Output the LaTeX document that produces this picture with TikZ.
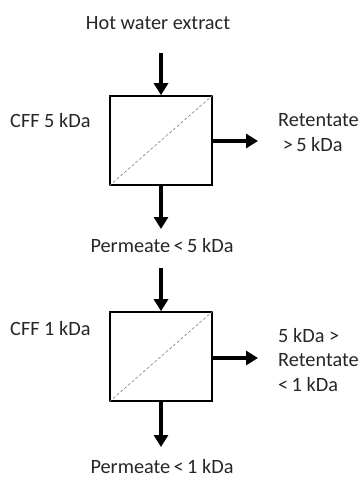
\documentclass[tikz,border=0pt]{standalone}
\usepackage{fontspec}
\setmainfont{Carlito}
\usetikzlibrary{arrows.meta}
\begin{document}
\begin{tikzpicture}[x=1pt,y=-1pt,
  lbl/.style={font=\fontsize{20.3}{24.7}\selectfont, inner sep=0pt, text=black!85},
  unit/.style={draw, line width=1.6pt, minimum width=102pt, minimum height=89pt, inner sep=0pt},
  flow/.style={line width=3.6pt, -{Triangle[length=12pt,width=14pt]}},
  membrane/.style={gray, line width=0.6pt, dash pattern=on 3pt off 2pt}]
\useasboundingbox (0,0) rectangle (362,477);

% first stage: 5 kDa
\node[unit] (u1) at (161,140.5) {};
\draw[membrane] (u1.south west) -- (u1.north east);
\node[lbl, anchor=base] (feed) at (158,29.5) {Hot water extract};
\coordinate (in1) at (161,53);
\draw[flow] (in1) -- (u1.north);
\node[lbl, anchor=base west] (cff5) at (10,127) {CFF 5 kDa};
\coordinate (r1) at (258,141);
\draw[flow] (u1.east |- r1) -- (r1);
% multi-line labels: the base anchor sits on the last line
\node[lbl, anchor=base west, align=left] (ret5) at (278,151.5) {Retentate\\\ {>}\,5 kDa};
\node[lbl, anchor=base] (perm5) at (162,252.5) {Permeate\,{<}\,5 kDa};
\coordinate (p1) at (161,229);
\draw[flow] (u1.south) -- (p1);

% second stage: 1 kDa
\node[unit] (u2) at (161,356.5) {};
\draw[membrane] (u2.south west) -- (u2.north east);
\coordinate (in2) at (161,268);
\draw[flow] (in2) -- (u2.north);
\node[lbl, anchor=base west] (cff1) at (10,335) {CFF 1 kDa};
\coordinate (r2) at (258,358);
\draw[flow] (u2.east |- r2) -- (r2);
\node[lbl, anchor=base west, align=left] (ret1) at (278,391.5) {5 kDa {>}\\Retentate\\{<}\,1 kDa};
\coordinate (p2) at (161,447);
\draw[flow] (u2.south) -- (p2);
\node[lbl, anchor=base] (perm1) at (162,473) {Permeate\,{<}\,1 kDa};
\end{tikzpicture}
\end{document}
